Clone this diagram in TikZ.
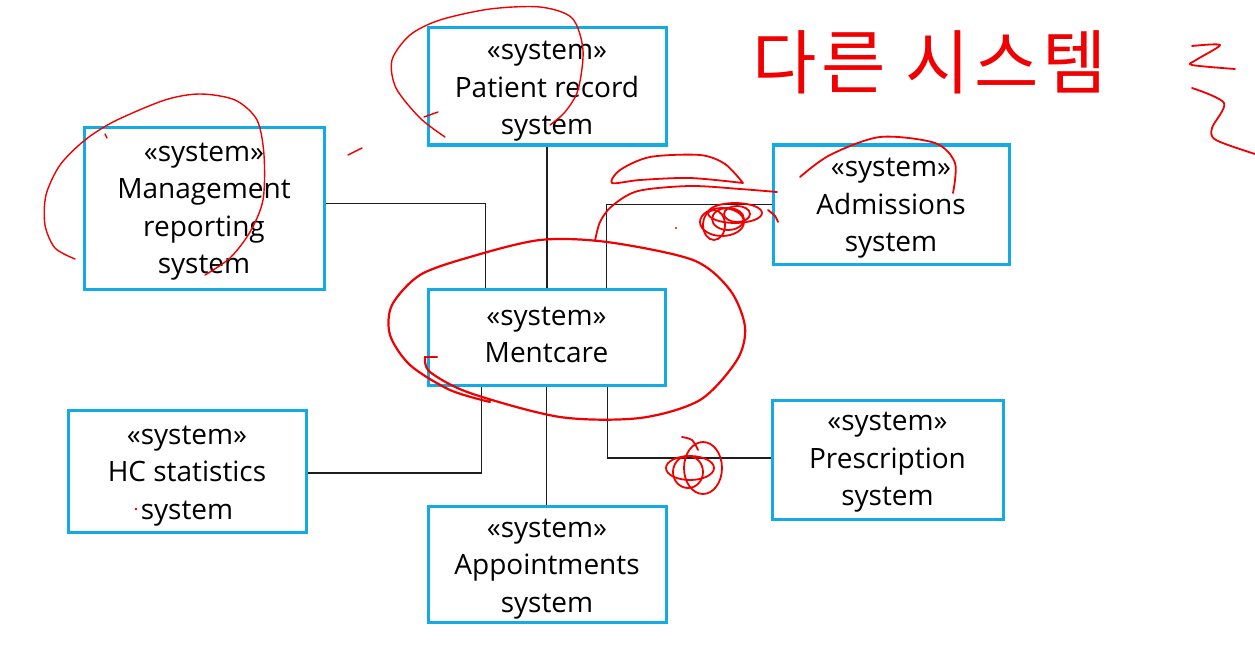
\documentclass[tikz,border=0pt]{standalone}
\usepackage{fontspec}
\setmainfont{Open Sans}
\newfontfamily\krfont[LetterSpace=6]{Noto Sans CJK KR}
\definecolor{sysblue}{RGB}{20,170,228}
\definecolor{ink}{RGB}{30,30,30}
\definecolor{pen}{RGB}{240,0,0}
\begin{document}
\begin{tikzpicture}[x=1pt,y=-1pt,
  sysbox/.style={draw=sysblue, line width=3pt, fill=white, inner sep=0pt},
  systext/.style={align=center, inner sep=0pt, font=\fontsize{28}{37.5}\selectfont},
  conn/.style={draw=ink, line width=1.3pt},
  scribble/.style={draw=pen, line width=1.8pt, line cap=round, line join=round}]
\useasboundingbox[fill=white] (0,0) rectangle (1255,658);

\node[sysbox, minimum width=238pt, minimum height=117pt] (pr) at (547,86.5) {};
\node[sysbox, minimum width=240pt, minimum height=161pt] (mr) at (204,208.5) {};
\node[sysbox, minimum width=236pt, minimum height=119pt] (ad) at (891,204.5) {};
\node[sysbox, minimum width=237pt, minimum height=96pt] (mc) at (546.5,337) {};
\node[sysbox, minimum width=238pt, minimum height=122pt] (hc) at (187,471) {};
\node[sysbox, minimum width=231pt, minimum height=119pt] (ps) at (887.5,459.5) {};
\node[sysbox, minimum width=238pt, minimum height=116pt] (ap) at (547,564) {};

\node[systext] (prt) at ([yshift=-5pt]pr.center) {«system»\\Patient record\\system};
\node[systext] (mrt) at ([yshift=-3pt]mr.center) {«system»\\Management\\reporting\\system};
\node[systext] (adt) at ([yshift=-4pt]ad.center) {«system»\\Admissions\\system};
\node[systext] (mct) at ([yshift=2pt]mc.center) {«system»\\Mentcare};
\node[systext] (hct) at ([yshift=-5pt]hc.center) {«system»\\HC statistics\\system};
\node[systext] (pst) at ([yshift=-3pt]ps.center) {«system»\\Prescription\\system};
\node[systext] (apt) at ([yshift=-5pt]ap.center) {«system»\\Appointments\\system};

\draw[conn] ([yshift=5pt]mr.east) -| ([xshift=-61pt]mc.north);
\draw[conn] (pr.south) -- (pr.south |- mc.north);
\draw[conn] ([xshift=60pt]mc.north) |- (ad.west);
\draw[conn] ([xshift=-65pt]mc.south) |- ([yshift=-2pt]hc.east);
\draw[conn] (mc.south) -- (mc.south |- ap.north);
\draw[conn] ([xshift=61pt]mc.south) |- ([yshift=1.5pt]ps.west);

% handwritten annotation
\node[pen, font=\krfont\fontsize{70}{70}\selectfont, inner sep=0pt] (note) at (930,62) {다른 시스템};
\draw[scribble] plot[smooth] coordinates {(1192,46) (1220,45) (1196,60) (1192,65) (1235,69)};
\draw[scribble] plot[smooth] coordinates {(1192,88) (1224,103) (1212,128) (1216,140) (1255,154)};

% patient record loop
\draw[scribble, line width=1.4pt] plot[smooth] coordinates {(445,137) (420,118) (396,88) (392,60) (410,35) (440,20) (490,9) (540,7) (572,18) (583,50) (578,90) (565,112) (550,125)};
\draw[scribble, line width=1.4pt] (424,117) -- (438,112);
% management loop
\draw[scribble, line width=1.4pt] plot[smooth] coordinates {(75,259) (55,248) (45,225) (46,195) (60,165) (85,140) (115,121) (165,100) (200,94) (235,100) (257,120) (264,155) (263,200) (250,232) (230,258) (205,275)};
\draw[scribble, line width=1.4pt] (105,134) -- (107,138);
\draw[scribble, line width=1.4pt] (348,155) -- (362,148);
% mentcare ellipse
\draw[scribble, line width=2.2pt] (437,357) -- (425,357);
\draw[scribble, line width=2.2pt] plot[smooth] coordinates {(425,357) (430,372) (470,393) (560,417) (640,418) (700,400) (737,360) (745,327) (730,290) (693,260) (607,242) (540,240) (470,257) (420,275) (392,305) (390,335) (410,365) (450,390) (490,402)};
% admissions scribbles
\draw[scribble] plot[smooth] coordinates {(595,241) (600,222) (612,206) (638,191) (690,186) (740,189) (777,192)};
\draw[scribble] plot[smooth] coordinates {(743,183) (725,164) (700,155) (650,157) (620,170) (612,183) (640,180) (690,178) (743,183)};
\draw[scribble] (722,222) ellipse[x radius=22pt, y radius=14pt];
\draw[scribble] (735,213) ellipse[x radius=27pt, y radius=10pt];
\draw[scribble] (714,225) ellipse[x radius=11pt, y radius=15pt];
\draw[scribble] (737,214) ellipse[x radius=13pt, y radius=8pt];
\draw[scribble] (728,219) ellipse[x radius=16pt, y radius=11pt];
\draw[scribble] plot[smooth] coordinates {(768,210) (775,216) (778,222)};
\fill[pen] (676,228) circle (1.2pt);
\draw[scribble] plot[smooth] coordinates {(800,177) (830,155) (880,137) (935,143) (955,163) (953,193)};
% prescription scribbles
\draw[scribble] (690,468) ellipse[x radius=24pt, y radius=12pt];
\draw[scribble] (703,468) ellipse[x radius=19pt, y radius=26pt];
\draw[scribble] (688,472) ellipse[x radius=15pt, y radius=16pt];
\draw[scribble] plot[smooth] coordinates {(682,437) (692,440) (698,450)};
\fill[pen] (136,509) circle (1.3pt);
\end{tikzpicture}
\end{document}
